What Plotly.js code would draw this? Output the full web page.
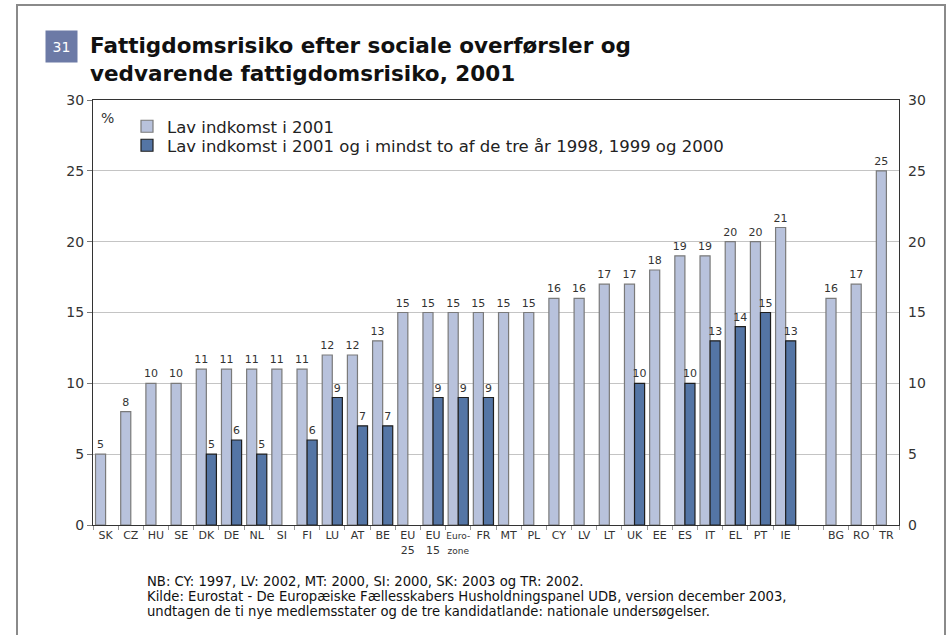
<!DOCTYPE html>
<html>
<head>
<meta charset="utf-8">
<script src="https://cdn.plot.ly/plotly-3.0.1.min.js"></script>
<style>
  html, body { margin: 0; padding: 0; background: #fff; overflow: hidden; }
  #frame { position: absolute; left: 16px; top: 4px; width: 930px; height: 700px; border: 2px solid #8a8a8a; box-sizing: border-box; }
  #chart { position: absolute; left: 0; top: 0; width: 948px; height: 635px; }
</style>
</head>
<body>
<div id="frame"></div>
<div id="chart"></div>
<script>
// ---- data ----
const categories = ["SK","CZ","HU","SE","DK","DE","NL","SI","FI","LU","AT","BE","EU25","EU15","Eurozone","FR","MT","PL","CY","LV","LT","UK","EE","ES","IT","EL","PT","IE","gap","BG","RO","TR"];
const tickLabels = ["SK","CZ","HU","SE","DK","DE","NL","SI","FI","LU","AT","BE","EU<br>25","EU<br>15","<span style=\"font-size:9px\">Euro-<br>zone</span>","FR","MT","PL","CY","LV","LT","UK","EE","ES","IT","EL","PT","IE","","BG","RO","TR"];
const lowIncome2001 = [5,8,10,10,11,11,11,11,11,12,12,13,15,15,15,15,15,15,16,16,17,17,18,19,19,20,20,21,null,16,17,25];
const persistentLow = [null,null,null,null,5,6,5,null,6,9,7,7,null,9,9,9,null,null,null,null,null,10,null,10,13,14,15,13,null,null,null,null];
const seriesNames = ["Lav indkomst i 2001","Lav indkomst i 2001 og i mindst to af de tre år 1998, 1999 og 2000"];
const yTicks = [0,5,10,15,20,25,30];
const footnotes = [
  "NB: CY: 1997, LV: 2002, MT: 2000, SI: 2000, SK: 2003 og TR: 2002.",
  "Kilde: Eurostat - De Europæiske Fællesskabers Husholdningspanel UDB, version december 2003,",
  "undtagen de ti nye medlemsstater og de tre kandidatlande: nationale undersøgelser."
];

const FONT = "DejaVu Sans, Verdana, sans-serif";
const PLOT_TOP = 100, PLOT_H = 425, PLOT_L = 93, PLOT_W = 806;
const py = px => 1 + (PLOT_TOP - px) / PLOT_H;   // pixel row -> paper y
const pxx = px => (px - PLOT_L) / PLOT_W;         // pixel col -> paper x

const traces = [
  {
    type: "bar", name: seriesNames[0], x: categories, y: lowIncome2001,
    marker: {color: "#b8c2dc", line: {color: "#7a7a7a", width: 1.2}},
    text: lowIncome2001.map(v => v == null ? "" : String(v)),
    textposition: "outside", constraintext: "none", cliponaxis: false,
    textfont: {family: FONT, size: 11, color: "#333"},
    legend: "legend"
  },
  {
    type: "bar", name: seriesNames[1], x: categories, y: persistentLow,
    marker: {color: "#5475a5", line: {color: "#1e1e1e", width: 1.2}},
    text: persistentLow.map(v => v == null ? "" : String(v)),
    textposition: "outside", constraintext: "none", cliponaxis: false,
    textfont: {family: FONT, size: 11, color: "#333"},
    legend: "legend2"
  },
  {
    type: "bar", x: categories, y: lowIncome2001.map(() => null),
    yaxis: "y2", showlegend: false, hoverinfo: "skip"
  }
];

const legendCommon = {
  xanchor: "left", yanchor: "top",
  bgcolor: "rgba(0,0,0,0)", font: {family: FONT, size: 16.5, color: "#222"},
  itemclick: false
};

const annotations = [
  {
    text: "31", xref: "paper", yref: "paper", x: pxx(61.5), y: py(46.5),
    xanchor: "center", yanchor: "middle", showarrow: false,
    font: {family: FONT, size: 14, color: "#fff"},
    bgcolor: "#6c7aa6", width: 27, height: 27, borderpad: 2
  },
  {
    text: "%", xref: "paper", yref: "paper", x: 0.008, y: py(118),
    xanchor: "left", yanchor: "middle", showarrow: false,
    font: {family: FONT, size: 14, color: "#333"}
  }
];
footnotes.forEach((t, i) => annotations.push({
  text: t, xref: "paper", yref: "paper", x: pxx(145), y: py(581 + 15 * i),
  xanchor: "left", yanchor: "middle", align: "left", showarrow: false,
  font: {family: FONT, size: 13.2, color: "#111"}
}));

const layout = {
  width: 948, height: 635,
  margin: {l: PLOT_L, r: 49, t: PLOT_TOP, b: 110},
  paper_bgcolor: "rgba(0,0,0,0)", plot_bgcolor: "#fff",
  font: {family: FONT, color: "#333"},
  barmode: "group", bargap: 0.2, bargroupgap: 0,
  showlegend: true,
  title: {
    text: "<b>Fattigdomsrisiko efter sociale overførsler og<br>vedvarende fattigdomsrisiko, 2001</b>",
    font: {family: FONT, size: 21.5, color: "#111"},
    x: 90/948, xref: "container", xanchor: "left",
    y: 1 - 53/635, yref: "container", yanchor: "top"
  },
  xaxis: {
    type: "category", categoryorder: "array", categoryarray: categories,
    range: [-0.5, categories.length - 0.5], autorange: false,
    tickvals: categories, ticktext: tickLabels, tickangle: 0,
    tickson: "boundaries", ticks: "outside", ticklen: 4, tickcolor: "#999",
    tickfont: {family: FONT, size: 11, color: "#333"},
    showline: true, linecolor: "#333", linewidth: 1, mirror: true,
    showgrid: false, zeroline: false, fixedrange: true
  },
  yaxis: {
    range: [0, 30], autorange: false, tickvals: yTicks, ticks: "outside", ticklen: 5, tickcolor: "#777",
    tickfont: {family: FONT, size: 14, color: "#333"},
    showgrid: true, gridcolor: "#c4c4c4", gridwidth: 1,
    showline: true, linecolor: "#333", linewidth: 1, mirror: true,
    zeroline: false, fixedrange: true
  },
  yaxis2: {
    overlaying: "y", side: "right", range: [0, 30], autorange: false, tickvals: yTicks,
    ticks: "", ticklabelstandoff: 8,
    tickfont: {family: FONT, size: 14, color: "#333"},
    showgrid: false, zeroline: false, showline: false, fixedrange: true
  },
  legend: Object.assign({x: pxx(127), y: py(109)}, legendCommon),
  legend2: Object.assign({x: pxx(127), y: py(128)}, legendCommon),
  annotations: annotations
};

Plotly.newPlot("chart", traces, layout, {displayModeBar: false, staticPlot: true});
</script>
</body>
</html>
